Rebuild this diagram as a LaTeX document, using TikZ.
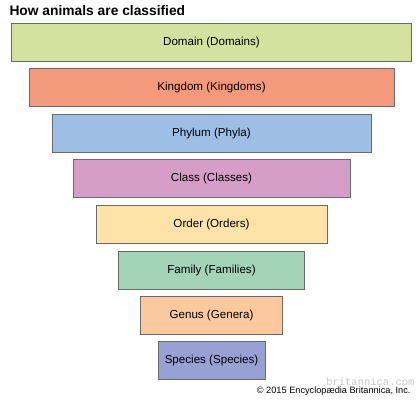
\documentclass[tikz,border=0pt]{standalone}
\usepackage{fontspec}
\setmainfont{Liberation Sans}
\setmonofont{Liberation Mono}
\usepackage{xcolor}
\usetikzlibrary{positioning}
\definecolor{RankDomain}{HTML}{D5E19F}
\definecolor{RankKingdom}{HTML}{F49A7C}
\definecolor{RankPhylum}{HTML}{9DBEE5}
\definecolor{RankClass}{HTML}{D69DC8}
\definecolor{RankOrder}{HTML}{FDE3A7}
\definecolor{RankFamily}{HTML}{A3D4B8}
\definecolor{RankGenus}{HTML}{FCC89D}
\definecolor{RankSpecies}{HTML}{98A1D3}
\definecolor{RankEdge}{HTML}{6A6A6A}

\begin{document}
\begin{tikzpicture}[
  x=1pt, y=1pt,
  node distance=7.6pt,
  rank/.style={draw=RankEdge, line width=0.8pt, fill=#1, inner sep=0pt, outer sep=0pt,
    minimum height=38pt, align=center, font=\fontsize{11.6}{13}\selectfont},
  title/.style={anchor=base west, font=\fontsize{13.8}{15}\selectfont\bfseries},
  credit/.style={anchor=base east, font=\fontsize{9.2}{10}\selectfont}
]
\useasboundingbox[fill=white] (0,0) rectangle (420,400);

\node[title] (heading) at (6,384) {How animals are classified};

\node[rank=RankDomain, minimum width=400pt] (domain) at (211.5,358) {Domain (Domains)};
\node[rank=RankKingdom, minimum width=365pt, below=of domain] (kingdom) {Kingdom (Kingdoms)};
\node[rank=RankPhylum, minimum width=319pt, below=of kingdom] (phylum) {Phylum (Phyla)};
\node[rank=RankClass, minimum width=277pt, below=of phylum] (class) {Class (Classes)};
\node[rank=RankOrder, minimum width=231pt, below=of class] (order) {Order (Orders)};
\node[rank=RankFamily, minimum width=186pt, below=of order] (family) {Family (Families)};
\node[rank=RankGenus, minimum width=142pt, below=of family] (genus) {Genus (Genera)};
\node[rank=RankSpecies, minimum width=107pt, below=6.5pt of genus] (species) {Species (Species)};

% watermark sits under the credit line
\node[anchor=base east, text=black!22, font=\fontsize{10.5}{12}\selectfont\ttfamily] (mark) at (418,15) {britannica.com};
\node[credit] (copyright) at (414,7) {© 2015 Encyclopædia Britannica, Inc.};
\end{tikzpicture}
\end{document}
